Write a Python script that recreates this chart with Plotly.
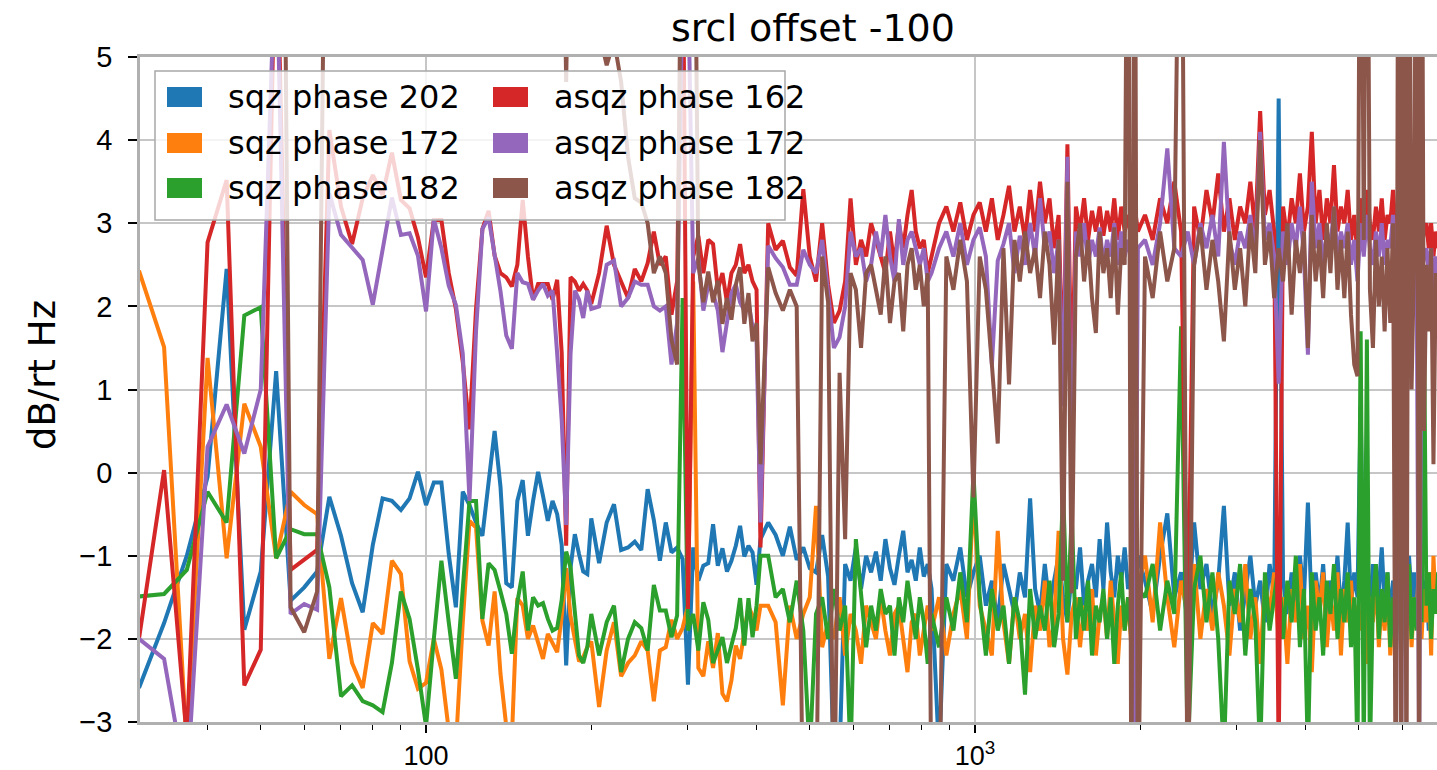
import plotly.graph_objects as go

# ---- frequency grid: FFT bins of 10/3 Hz, decimated in the dense part ----
BIN_HZ = 10.0 / 3.0
bins = (list(range(9, 61)) + list(range(62, 123, 2)) + list(range(126, 247, 4))
        + list(range(250, 595, 8)) + list(range(612, 2093, 20)))
freq = [n * BIN_HZ for n in bins]

# ---- sqz phase 202 (blue) ----
sqz202_A = [-2.59, -1.81, -1.0, -0.05, 2.45, -1.89, -1.19, 1.22, -1.54, -1.38, -1.19, -0.29, -0.76, -1.33, -1.68, -0.87, -0.31, -0.34, -0.45, -0.31, 0.01, -0.39, -0.12, -0.12, -0.98, -1.62, -0.23, -0.39, -0.6, -0.76, -0.12, 0.5, -0.17, -1.33, -1.38, -0.34, -0.09, -0.76, -0.34, 0.01, -0.28, -0.58, -0.34, -0.5, -0.87, -2.32, -1.14, -0.74, -0.98, -1.19, -1.22, -0.55]
sqz202_B = [-1.09, -0.6, -0.38, -0.93, -0.9, -0.83, -0.93, -0.2, -0.57, -1.06, -0.6, -0.96, -0.9, -1.04, -2.55, -0.9, -1.3, -1.12, -1.09, -0.62, -1.12, -0.91, -1.19, -1.06, -0.88, -0.64, -1.01, -0.88, -0.96, -1.35, -0.8]
sqz202_C = [-0.6, -0.75, -1.0, -0.65, -1.05, -0.9, -1.15, -1.2, -0.75, -1.25, -3.5, -3.4, -1.1, -1.3, -0.9, -1.4, -1.0, -1.2, -0.95, -1.3, -0.8, -1.15, -1.35, -1.0, -0.7, -1.2, -1.05, -1.3, -0.9, -1.25, -1.1]
sqz202_D = [-1.4, -3.4, -1.1, -1.3, -0.9, -1.5, -1.2, -1.0, -1.6, -1.3, -1.8, -1.1, -1.4, -1.7, -1.2, -1.5, -0.31, -1.4, -1.7, -1.1, -1.6, -1.3, -1.0, -1.5, -1.8, -1.2, -1.4, -0.9, -1.6, -1.3, -1.1, -1.5, -0.8, -1.4, -0.6, -1.2, -1.5, -1.0, -1.3, -0.9, -1.4, -1.2, -1.6, -1.0]
sqz202_E = [-1.3, -1.7, -1.0, -0.49, -1.5, -1.2, -1.8, -0.6, -1.4, -1.1,
            -1.7, -1.3, -0.4, -1.6, -1.2, -1.9, -1.4, -1.0, -1.6, -1.3,
            -1.8, -1.1, -1.5, 4.5, -1.3, -1.7, -1.2, -1.6, -1.0, -1.5,
            -0.36, -1.7, -1.2, -1.6, -1.1, -1.8, -1.3, -1.5, -1.0, -1.7,
            -1.3, -0.6, -1.6, -1.2, -1.5, 0.8, -1.8, -1.3, -1.6, -1.1,
            -1.7, -1.4, -0.9, -1.6, -1.2, -1.8, -1.3, -1.5, -1.1, -1.7,
            -1.3, -1.6, -1.0, -1.5, -1.2, -1.8, -1.4, -1.1, -1.6, -1.3,
            -1.9, -1.2, -1.5, -1.3, -1.6]

# ---- sqz phase 172 (orange) ----
sqz172_A = [2.43, 1.51, -3.3, 1.38, -1.03, 0.83, 0.31, -1.03, -0.23, -0.39, -0.5, -2.24, -1.51, -2.29, -2.59, -1.81, -1.94, -1.06, -1.22, -2.27, -2.6, -2.53, -2.0, -2.37, -3.1, -3.3, -1.8, -0.58, -0.66, -1.78, -2.08, -1.43, -2.42, -3.05, -3.2, -1.51, -1.6, -2.0, -1.84, -2.05, -2.24, -1.94, -2.05, -2.16, -1.73, -1.15, -1.73, -2.03, -2.27, -2.22, -2.1, -2.03]
sqz172_B = [-2.82, -2.14, -1.8, -2.45, -2.29, -2.2, -2.03, -2.14, -2.75, -2.14, -2.1, -1.77, -2.0, -1.87, -1.6, 2.3, -2.35, -2.45, -2.03, -2.35, -1.93, -2.66, -2.75, -2.5, -2.08, -2.24, -1.93, -1.61, -1.72, -1.9, -1.6]
sqz172_C = [-1.6, -1.8, -2.8, -1.6, -2.0, -1.7, -1.5, -0.4, -2.1, -1.8, -2.0, -1.5, -2.2, -1.7, -1.9, -2.3, -1.6, -1.8, -2.0, -1.5, -1.9, -2.2, -1.7, -1.6, -2.0, -2.4, -1.8, -1.7, -2.2, -1.9, -1.6]
sqz172_D = [-1.9, -1.5, -2.2, -1.7, -1.4, -2.0, -0.25, -1.6, -1.9, -2.2, -0.7, -1.8, -2.3, -1.5, -2.0, -1.7, -2.4, -1.6, -1.9, -1.3, -2.1, -1.8, -0.7, -2.0, -2.43, -1.7, -1.5, -2.1, -1.6, -1.9, -1.4, -2.2, -1.7, -1.5, -2.0, -1.3, -1.8, -2.3, -1.6, -1.9, -1.5, -2.1, -1.7, -1.4]
sqz172_E = [-1.0, -1.8, -0.6, -1.5, -2.1, -1.3, -1.7, -1.1, -2.0, -1.4,
            -1.9, -1.2, -1.6, -2.2, -1.4, -1.8, -1.1, -2.0, -1.5, -2.3,
            -1.3, -1.7, -1.2, -2.0, -1.5, -2.3, -1.4, -1.8, -1.1, -2.0,
            -1.6, -2.4, -1.3, -1.7, -1.2, -2.1, -1.5, -1.9, -1.2, -2.2,
            -1.4, -1.8, -1.3, -2.0, -1.6, -1.9, -1.4, -2.3, -1.5, -1.8,
            -1.2, -2.1, -1.5, -1.9, -1.3, -2.2, -1.6, -1.8, -1.2, -2.0,
            -1.4, -1.9, -1.3, -2.1, -1.5, -1.7, -1.1, -2.0, -1.4, -1.8,
            -1.2, -2.2, -1.0, -1.7, -1.3]

# ---- sqz phase 182 (green) ----
sqz182_A = [-1.49, -1.46, -1.17, -0.23, -0.6, 1.89, 1.99, -1.03, -0.68, -0.74, -0.74, -1.38, -2.69, -2.56, -2.75, -2.8, -2.88, -2.29, -1.43, -1.76, -2.37, -3.05, -2.0, -1.06, -1.8, -2.48, -1.4, -0.34, -0.34, -1.76, -1.09, -1.17, -1.43, -1.7, -2.18, -1.56, -1.19, -1.9, -1.5, -1.6, -1.57, -1.76, -1.9, -1.87, -1.53, -0.95, -1.14, -1.73, -2.2, -2.29, -2.1, -1.7]
sqz182_B = [-2.2, -1.8, -1.6, -2.4, -2.0, -1.8, -1.87, -2.14, -1.35, -1.66, -1.66, -1.98, -1.72, 2.1, -1.9, -1.7, -2.14, -1.56, -1.77, -2.29, -2.14, -1.98, -2.29, -2.08, -1.87, -1.51, -2.08, -1.51, -1.98, -1.6, -1.0]
sqz182_C = [-1.0, -1.5, -1.4, -1.8, -1.3, -1.9, -3.4, -1.7, -1.5, -2.0, -1.4, -1.9, -1.6, -3.4, -0.8, -1.5, -2.1, -1.6, -1.9, -1.4, -1.7, -1.6, -2.2, -1.5, -1.8, -1.3, -1.7, -2.0, -1.5, -1.8, -2.3]
sqz182_D = [-1.7, -2.1, -1.5, -1.9, -1.2, -1.8, 0.0, -1.5, -2.2, -1.4, -1.9, -1.6, -2.3, -1.5, -1.8, -2.67, -1.4, -2.0, -1.6, -1.9, -1.3, -2.1, -1.7, -0.2, -1.8, -0.5, -2.0, -1.5, -1.9, -1.3, -2.2, -1.6, -1.8, -1.4, -2.0, -1.5, -2.3, -1.6, -1.2, -1.9, -1.5, -2.0, -1.7, -1.4]
sqz182_E = [-1.5, -1.1, -1.9, -1.3, -1.7, 1.76, -3.4, -1.4, -1.0, -1.8,
            -1.2, -2.0, -3.4, -1.3, -1.7, -1.1, -2.2, -1.4, -1.8, -3.4,
            -1.2, -1.9, -1.5, -1.1, -2.0, -1.3, -1.8, -1.0, -2.1, -1.4,
            -3.4, -1.2, -1.9, -1.5, -2.2, -1.3, -1.7, -1.1, -2.0, -1.4,
            -1.8, -1.2, -2.1, -1.5, -3.4, 1.7, -3.4, 1.6, -3.4, -1.5,
            -1.1, -2.0, -1.4, -1.8, -1.2, -2.1, -1.5, -1.9, -1.3, -2.2,
            -1.4, -1.7, -1.1, -2.0, -1.5, -1.9, -1.3, -1.8, 1.8, -1.6,
            -1.2, -2.0, -1.4, -1.7, -1.2]

# ---- asqz phase 162 (red) ----
asqz162_A = [-2.0, 0.03, -3.2, 2.77, 3.52, -2.56, -2.13, 7.0, -1.17, -1.05, -0.93, 4.12, 3.2, 2.75, 3.3, 3.58, 3.34, 3.85, 3.28, 3.18, 2.83, 2.35, 3.04, 3.04, 2.4, 1.97, 1.33, 0.52, 1.97, 2.93, 3.15, 2.61, 2.4, 2.35, 2.24, 2.5, 3.28, 2.6, 2.08, 2.27, 2.27, 2.27, 2.08, 2.32, 1.44, -0.88, 2.35, 2.3, 2.19, 2.27, 2.19, 2.03]
asqz162_B = [2.4, 2.97, 2.5, 2.3, 2.1, 2.45, 2.3, 2.52, 2.9, 2.5, 2.6, 1.9, 2.3, 7.0, -1.64, 2.6, 2.85, 2.4, 2.8, 2.75, 2.2, 2.4, 2.05, 2.4, 2.5, 2.75, 2.4, 2.5, 2.3, 2.2, -0.9]
asqz162_C = [3.0, 2.68, 2.79, 2.47, 2.37, 3.41, 2.6, 2.3, 3.0, 2.26, 1.8, 1.95, 2.3, 3.3, 2.5, 2.8, 2.6, 3.0, 2.8, 2.6, 2.4, 2.9, 2.5, 3.0, 2.7, 3.1, 3.4, 2.9, 2.7, 2.8, 2.4]
asqz162_D = [2.6, 3.0, 3.2, 2.9, 3.25, 2.8, 3.1, 3.25, 2.9, 3.3, 2.8, 3.1, 3.45, 2.9, 3.2, 2.8, 3.4, 2.9, 3.5, 3.0, 3.3, 2.7, 3.1, 1.1, 3.95, 0.9, 3.2, 2.9, 3.3, 2.8, 3.15, 2.9, 3.2, 2.85, 3.15, 2.9, 3.3, 2.8, 3.2, 2.9, 3.1, 2.8, 3.2, 2.9]
asqz162_E = [3.1, 2.8, 3.3, 3.0, 3.5, 2.9, -2.06, 3.2, 2.8, 3.4,
             3.0, 3.6, 2.9, 3.3, 2.8, 3.2, 3.0, 3.5, 2.9, 4.35,
             3.1, 3.4, 2.9, -3.5, 3.2, 2.8, 3.3, 3.0, 3.6, 2.9,
             3.2, 4.1, 3.0, 3.4, 2.8, 3.3, 3.0, 3.7, 2.9, 3.2,
             3.0, 3.4, 2.8, 3.1, 2.6, 3.3, 2.9, 3.4, 3.0, 2.8,
             3.2, 2.9, 3.3, 2.8, 3.1, 3.0, 3.4, 2.9, 3.3, 3.0,
             4.45, 3.1, 3.5, 2.9, 3.2, 2.8, 3.1, 2.7, 2.9, 3.0,
             2.7, 3.0, 2.6, 2.9, 2.7]

# ---- asqz phase 172 (purple) ----
asqz172_A = [-2.0, -2.24, -3.8, 0.31, 0.82, 0.23, 1.0, 6.5, -1.7, -1.58, -1.65, 3.36, 2.86, 2.71, 2.56, 2.02, 2.66, 3.31, 2.86, 2.88, 2.61, 1.94, 3.05, 2.7, 2.25, 2.02, 1.43, -0.34, 1.7, 2.93, 3.07, 2.61, 2.18, 1.65, 1.49, 2.4, 2.29, 2.27, 2.08, 2.19, 2.27, 2.13, 2.19, 1.43, 0.63, -0.63, 1.43, 2.19, 2.08, 1.86, 2.19, 1.97]
asqz172_B = [2.0, 2.5, 2.55, 2.0, 2.1, 2.3, 2.26, 2.26, 2.0, 1.95, 2.0, 1.3, 1.8, 6.0, 6.0, 2.4, 2.58, 1.95, 2.26, 2.16, 1.95, 1.45, 1.84, 2.16, 2.26, 2.05, 1.95, 2.05, 1.75, 1.6, -0.6]
asqz172_C = [2.73, 2.58, 2.47, 2.26, 2.26, 2.68, 2.5, 2.4, 2.8, 2.16, 1.5, 1.63, 2.0, 2.9, 2.6, 2.7, 2.3, 2.5, 2.9, 2.6, 3.1, 2.6, 2.3, 3.05, 2.5, 2.8, 2.9, 2.7, 2.5, 2.7, 2.3]
asqz172_D = [2.4, 2.7, 2.9, 2.6, 3.0, 2.5, 2.8, 2.95, 2.6, 1.3, 2.55, 2.75, 3.0, 2.4, 2.85, 2.5, 3.0, 2.6, 3.3, 2.7, 2.9, 2.4, 2.8, 0.8, 3.8, -0.4, 2.9, 2.6, 3.0, 2.5, 2.8, 2.6, 2.95, 2.5, 2.8, 2.6, 3.0, 2.5, 2.9, 2.6, 2.8, 2.55, -3.5, 2.7]
asqz172_E = [2.8, 2.5, 3.0, 3.9, 2.7, 2.6, 2.9, 2.5, 3.0, 2.7,
             3.1, 2.6, 3.98, 2.8, 2.5, 2.9, 2.7, 3.1, 2.6, 4.1,
             2.8, 3.0, 2.6, 1.07, 2.9, 2.5, 3.0, 2.7, 3.2, 2.6,
             1.42, 3.5, 2.7, 3.0, 2.5, 2.9, 2.7, 3.2, 2.6, 2.9,
             2.7, 3.0, 2.5, 2.8, 2.3, 3.0, 2.6, 3.1, 2.7, 2.5,
             2.9, 2.6, 3.0, 2.5, 2.8, 2.7, 3.1, 2.6, 3.0, -3.5,
             3.6, 2.8, 3.1, 2.6, 2.9, 2.5, -3.5, 2.4, 2.6, 2.7,
             2.4, 2.7, 2.2, 2.6, 2.4]

# ---- asqz phase 182 (brown) ----
asqz182_A = [12, 14, 11, 15, 13, 16, 14, 18, -1.62, -1.92, -1.43, 12, 11, 13, 10, 12, 11, 9, 10, 11, 9, 10, 9, 10, 8, 9, 10, 8, 9, 8, 10, 9, 8, 9, 10, 8, 9, 8, 7, 9, 8, 9, 7, 8, 8, 4.7, 8, 7, 8, 7, 6, 6.5]
asqz182_B = [5.3, 4.9, 5.2, 4.7, 3.8, 3.3, 3.25, 3.0, 2.4, 2.6, 2.4, 1.6, 1.3, 9.0, 9.0, 9.0, 2.52, 2.05, 2.42, 2.05, 2.31, 1.79, 2.1, 1.84, 2.26, 2.47, 1.79, 2.16, 1.58, 1.8, 0.1]
asqz182_C = [2.47, 2.16, 1.95, 2.2, 2.0, -4.5, -4.5, -4.5, 2.6, 2.05, -4.5, 1.2, -0.8, 2.4, 2.2, 1.5, 2.4, 2.5, 2.2, 1.9, 2.6, 1.8, 2.3, 2.4, 1.7, 2.5, 2.7, 2.2, 2.5, 2.0, 2.4]
asqz182_D = [-4.5, -4.5, 2.6, 2.2, 2.8, 2.3, -0.3, 2.6, 2.2, 1.3, 0.35, 2.7, 1.06, 2.8, 2.3, 2.9, 2.4, 2.7, 2.1, 2.9, 2.5, 1.54, 2.8, -1.3, 3.5, -1.45, 2.6, 3.0, 2.3, 2.8, 2.1, 1.68, 2.9, 2.4, 2.7, 2.1, 2.95, 1.9, 2.7, 2.5, 9.0, -4.5, 9.0, -4.5]
asqz182_E = [2.6, 2.1, 2.9, 2.3, 2.7, 9.0, -4.5, 2.5, 2.95, 2.2,
             2.8, 2.3, 1.58, 2.9, 2.2, 2.7, 2.0, 3.0, 2.4, 4.0,
             2.5, 2.9, 2.1, 2.7, 2.3, 3.0, 1.9, 2.8, 2.4, 2.9,
             1.5, 3.1, 2.3, 2.8, 2.1, 3.0, 2.4, 3.2, 2.2, 2.8,
             2.1, 2.9, 1.9, 1.3, 1.16, 9.0, 2.8, 9.0, 2.2, 1.5,
             2.8, 2.0, 2.6, 1.7, 2.7, 1.8, 3.0, -4.5, 9.0, -4.5,
             9.0, -4.5, 9.0, 1.0, 2.6, 9.0, -4.5, 9.0, 0.5, 2.5,
             1.7, 2.7, 0.1, 2.4, 1.9]

names = ["sqz phase 202", "sqz phase 172", "sqz phase 182",
         "asqz phase 162", "asqz phase 172", "asqz phase 182"]
colors = ["#1f77b4", "#ff7f0e", "#2ca02c", "#d62728", "#9467bd", "#8c564b"]
series = [
    sqz202_A + sqz202_B + sqz202_C + sqz202_D + sqz202_E,
    sqz172_A + sqz172_B + sqz172_C + sqz172_D + sqz172_E,
    sqz182_A + sqz182_B + sqz182_C + sqz182_D + sqz182_E,
    asqz162_A + asqz162_B + asqz162_C + asqz162_D + asqz162_E,
    asqz172_A + asqz172_B + asqz172_C + asqz172_D + asqz172_E,
    asqz182_A + asqz182_B + asqz182_C + asqz182_D + asqz182_E,
]
for s in series:
    assert len(s) == len(freq), (len(s), len(freq))

x_major = [100, 1000]
x_major_text = ["100", "10<sup>3</sup>"]
x_minor = [40, 50, 60, 70, 80, 90, 200, 300, 400, 500, 600, 700, 800, 900,
           2000, 3000, 4000, 5000, 6000]
y_ticks = [-3, -2, -1, 0, 1, 2, 3, 4, 5]

fig = go.Figure()
for name, col, ys in zip(names, colors, series):
    fig.add_trace(go.Scatter(x=freq, y=ys, mode="lines", name=name,
                             line=dict(color=col, width=4),
                             showlegend=False, hoverinfo="skip"))

W, H = 1437, 770
L, R, T, B = 140, 0, 57, 48
PW, PH = W - L - R, H - T - B

def px(xp):
    return (xp - L) / PW

def py(yp):
    return (H - B - yp) / PH

TEXT_FONT = "DejaVu Sans, Verdana, sans-serif"
TICK_FONT = "Liberation Sans, Arial, sans-serif"

shapes = []
annotations = []
# legend frame
shapes.append(dict(type="rect", xref="paper", yref="paper",
                   x0=px(155), x1=px(785), y0=py(220), y1=py(71),
                   fillcolor="rgba(255,255,255,0.8)",
                   line=dict(color="#a8a8a8", width=1.5), layer="above"))
rows = [97, 143, 188]
for i, (name, col) in enumerate(zip(names, colors)):
    c, r = divmod(i, 3)
    hx0 = 167 if c == 0 else 493
    tx = 226 if c == 0 else 552
    yc = rows[r]
    shapes.append(dict(type="rect", xref="paper", yref="paper",
                       x0=px(hx0), x1=px(hx0 + 35), y0=py(yc + 10), y1=py(yc - 10),
                       fillcolor=col, line=dict(width=0), layer="above"))
    annotations.append(dict(text=name, xref="paper", yref="paper",
                            x=px(tx), y=py(yc), xanchor="left", yanchor="middle",
                            showarrow=False,
                            font=dict(family=TEXT_FONT, size=32, color="black")))

annotations.append(dict(text="srcl offset -100", xref="paper", yref="paper",
                        x=px(813), y=py(28), xanchor="center", yanchor="middle",
                        showarrow=False,
                        font=dict(family=TEXT_FONT, size=38, color="black")))
annotations.append(dict(text="dB/rt Hz", xref="paper", yref="paper",
                        x=px(42), y=py(375), xanchor="center", yanchor="middle",
                        textangle=-90, showarrow=False,
                        font=dict(family=TEXT_FONT, size=37, color="black")))

fig.update_layout(
    width=W, height=H,
    margin=dict(l=L, r=R, t=T, b=B, pad=0, autoexpand=False),
    paper_bgcolor="white", plot_bgcolor="white",
    showlegend=False,
    shapes=shapes, annotations=annotations,
    xaxis=dict(type="log", range=[1.479, 3.8415], automargin=False,
               tickmode="array", tickvals=x_major, ticktext=x_major_text,
               ticks="outside", ticklen=8, tickwidth=1.5, tickcolor="black",
               showgrid=True, gridcolor="#c6c6c6", gridwidth=1.6,
               showline=True, linecolor="#b0b0b0", linewidth=2.5, mirror=True,
               zeroline=False,
               tickfont=dict(family=TICK_FONT, size=27, color="black"),
               minor=dict(tickmode="array", tickvals=x_minor, ticks="outside",
                          ticklen=5, tickwidth=1.2, tickcolor="black",
                          showgrid=False)),
    yaxis=dict(range=[-3, 5], tickmode="array", tickvals=y_ticks, automargin=False,
               ticks="outside", ticklen=9, tickwidth=1.5, tickcolor="black",
               showgrid=True, gridcolor="#c6c6c6", gridwidth=1.6,
               showline=True, linecolor="#b0b0b0", linewidth=2.5,
               zeroline=False, ticklabelstandoff=10,
               tickfont=dict(family=TICK_FONT, size=29, color="black")),
)

fig.write_html("out.html",
               config={"displayModeBar": False},
               post_script="document.body.style.margin='0px';"
                           "document.body.style.overflow='hidden';")
